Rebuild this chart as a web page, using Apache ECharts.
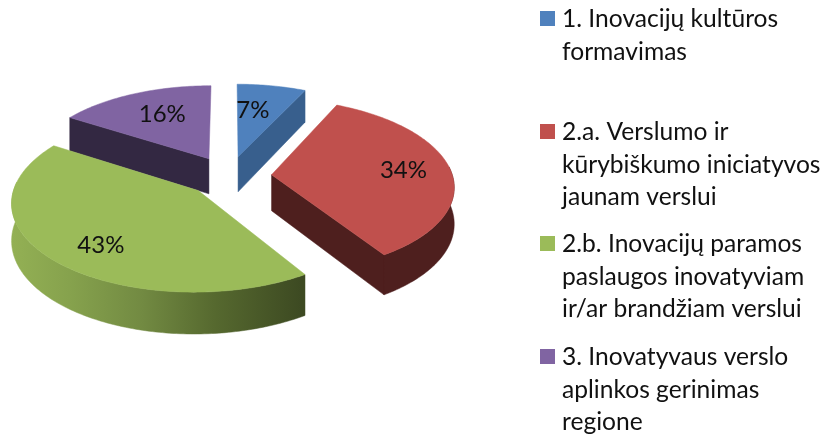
<!DOCTYPE html>
<html>
<head>
<meta charset="utf-8">
<style>
  html, body { margin: 0; padding: 0; background: #fff; }
  #chart { width: 823px; height: 435px; }
</style>
<script src="https://cdn.jsdelivr.net/npm/echarts@6/dist/echarts.min.js"></script>
</head>
<body>
<div id="chart"></div>
<script>
// * 3D 分离饼图 (custom series)

const categories = [
  '1. Inovacijų kultūros\nformavimas',
  '2.a. Verslumo ir\nkūrybiškumo iniciatyvos\njaunam verslui',
  '2.b. Inovacijų paramos\npaslaugos inovatyviam\nir/ar brandžiam verslui',
  '3. Inovatyvaus verslo\naplinkos gerinimas\nregione'
]
const shares = [7, 34, 43, 16]
const colors = ['#4f81bd', '#c0504d', '#9bbb59', '#8064a2']
const wallColors = ['#385f8d', '#4e1f1e', '#4e5e2c', '#332842']

// back to front
const drawOrder = [0, 3, 1, 2]
const starts = shares.map((_, i) => shares.slice(0, i).reduce((a, b) => a + b, 0))

// ? projection of the tilted disc
const cx = 229, cy = 176
const radius = 181, explode = 42.7, tilt = 0.473, camera = 1510, depth = 36
const project = (x, y, lift) => {
  const p = camera / (camera + y)
  return [cx + x * p, cy - y * tilt * p + lift * p]
}
const toRad = pct => pct * 3.6 * Math.PI / 180

const labelFont = '24px Lato'
const labelNudge = [[-10, 6], [3, -1], [5, 6], [9, 3]]

const greenWall = {
  type: 'linear', global: true, x: 12, y: 0, x2: 301, y2: 0,
  colorStops: [
    { offset: 0, color: '#93b054' },
    { offset: 0.2, color: '#86a24d' },
    { offset: 0.45, color: '#728a42' },
    { offset: 0.7, color: '#56692f' },
    { offset: 1, color: '#3d4a22' }
  ]
}

const renderSlice = (params, api) => {
  const i = api.value(0)
  const a0 = toRad(starts[i])
  const a1 = toRad(starts[i] + shares[i])
  const mid = (a0 + a1) / 2
  const ox = explode * Math.sin(mid)
  const oy = explode * Math.cos(mid)
  const world = (r, a) => [ox + r * Math.sin(a), oy + r * Math.cos(a)]
  const arc = (from, to, lift) => {
    const n = Math.max(2, Math.ceil(Math.abs(to - from) * 60))
    const pts = []
    for (let k = 0; k <= n; k++) {
      const w = world(radius, from + (to - from) * k / n)
      pts.push(project(w[0], w[1], lift))
    }
    return pts
  }
  const wallFill = i === 2 ? greenWall : wallColors[i]
  const children = []
  const wall = points => children.push({
    type: 'polygon', shape: { points }, style: { fill: wallFill, stroke: wallFill, lineWidth: 0.5 }
  })

  // ? cut faces which look at the viewer
  const cutFace = a => {
    const tip = world(radius, a)
    wall([
      project(ox, oy, 0), project(tip[0], tip[1], 0),
      project(tip[0], tip[1], depth), project(ox, oy, depth)
    ])
  }
  if (Math.sin(a1) > 0.01) cutFace(a1)
  if (Math.sin(a0) < -0.01) cutFace(a0)

  // ? outer rim, near half only
  const near0 = Math.max(a0, Math.PI * 0.47)
  const near1 = Math.min(a1, Math.PI * 1.53)
  if (near1 > near0) {
    wall(arc(near0, near1, 0).concat(arc(near1, near0, depth)))
  }

  children.push({
    type: 'polygon',
    shape: { points: [project(ox, oy, 0)].concat(arc(a0, a1, 0)) },
    style: { fill: colors[i], stroke: colors[i], lineWidth: 0.5 }
  })

  const lw = world(radius * 0.72, mid)
  const lp = project(lw[0], lw[1], 0)
  children.push({
    type: 'text',
    z2: 10,
    style: {
      text: shares[i] + '%',
      x: lp[0] + labelNudge[i][0],
      y: lp[1] + labelNudge[i][1],
      align: 'center',
      verticalAlign: 'middle',
      font: labelFont,
      fill: '#111'
    }
  })
  return { type: 'group', children }
}

// ? legend, first line sits level with the swatch
const legendTop = [11, 124, 236, 349]
const legendGraphic = []
categories.forEach((name, i) => {
  legendGraphic.push({
    type: 'rect', left: 540, top: legendTop[i],
    shape: { width: 15, height: 15 }, style: { fill: colors[i] }
  })
  legendGraphic.push({
    type: 'text', left: 562, top: legendTop[i] - 8,
    style: { text: name, font: '24.6px Lato', lineHeight: 32.5, fill: '#111' }
  })
})

const chart = echarts.init(document.getElementById('chart'), null, { renderer: 'canvas' })
chart.setOption({
  animation: false,
  backgroundColor: '#fff',
  graphic: legendGraphic,
  series: [{
    type: 'custom',
    coordinateSystem: 'none',
    renderItem: renderSlice,
    data: drawOrder.map(i => ({ name: categories[i], value: [i, shares[i]] }))
  }]
})
</script>
</body>
</html>
